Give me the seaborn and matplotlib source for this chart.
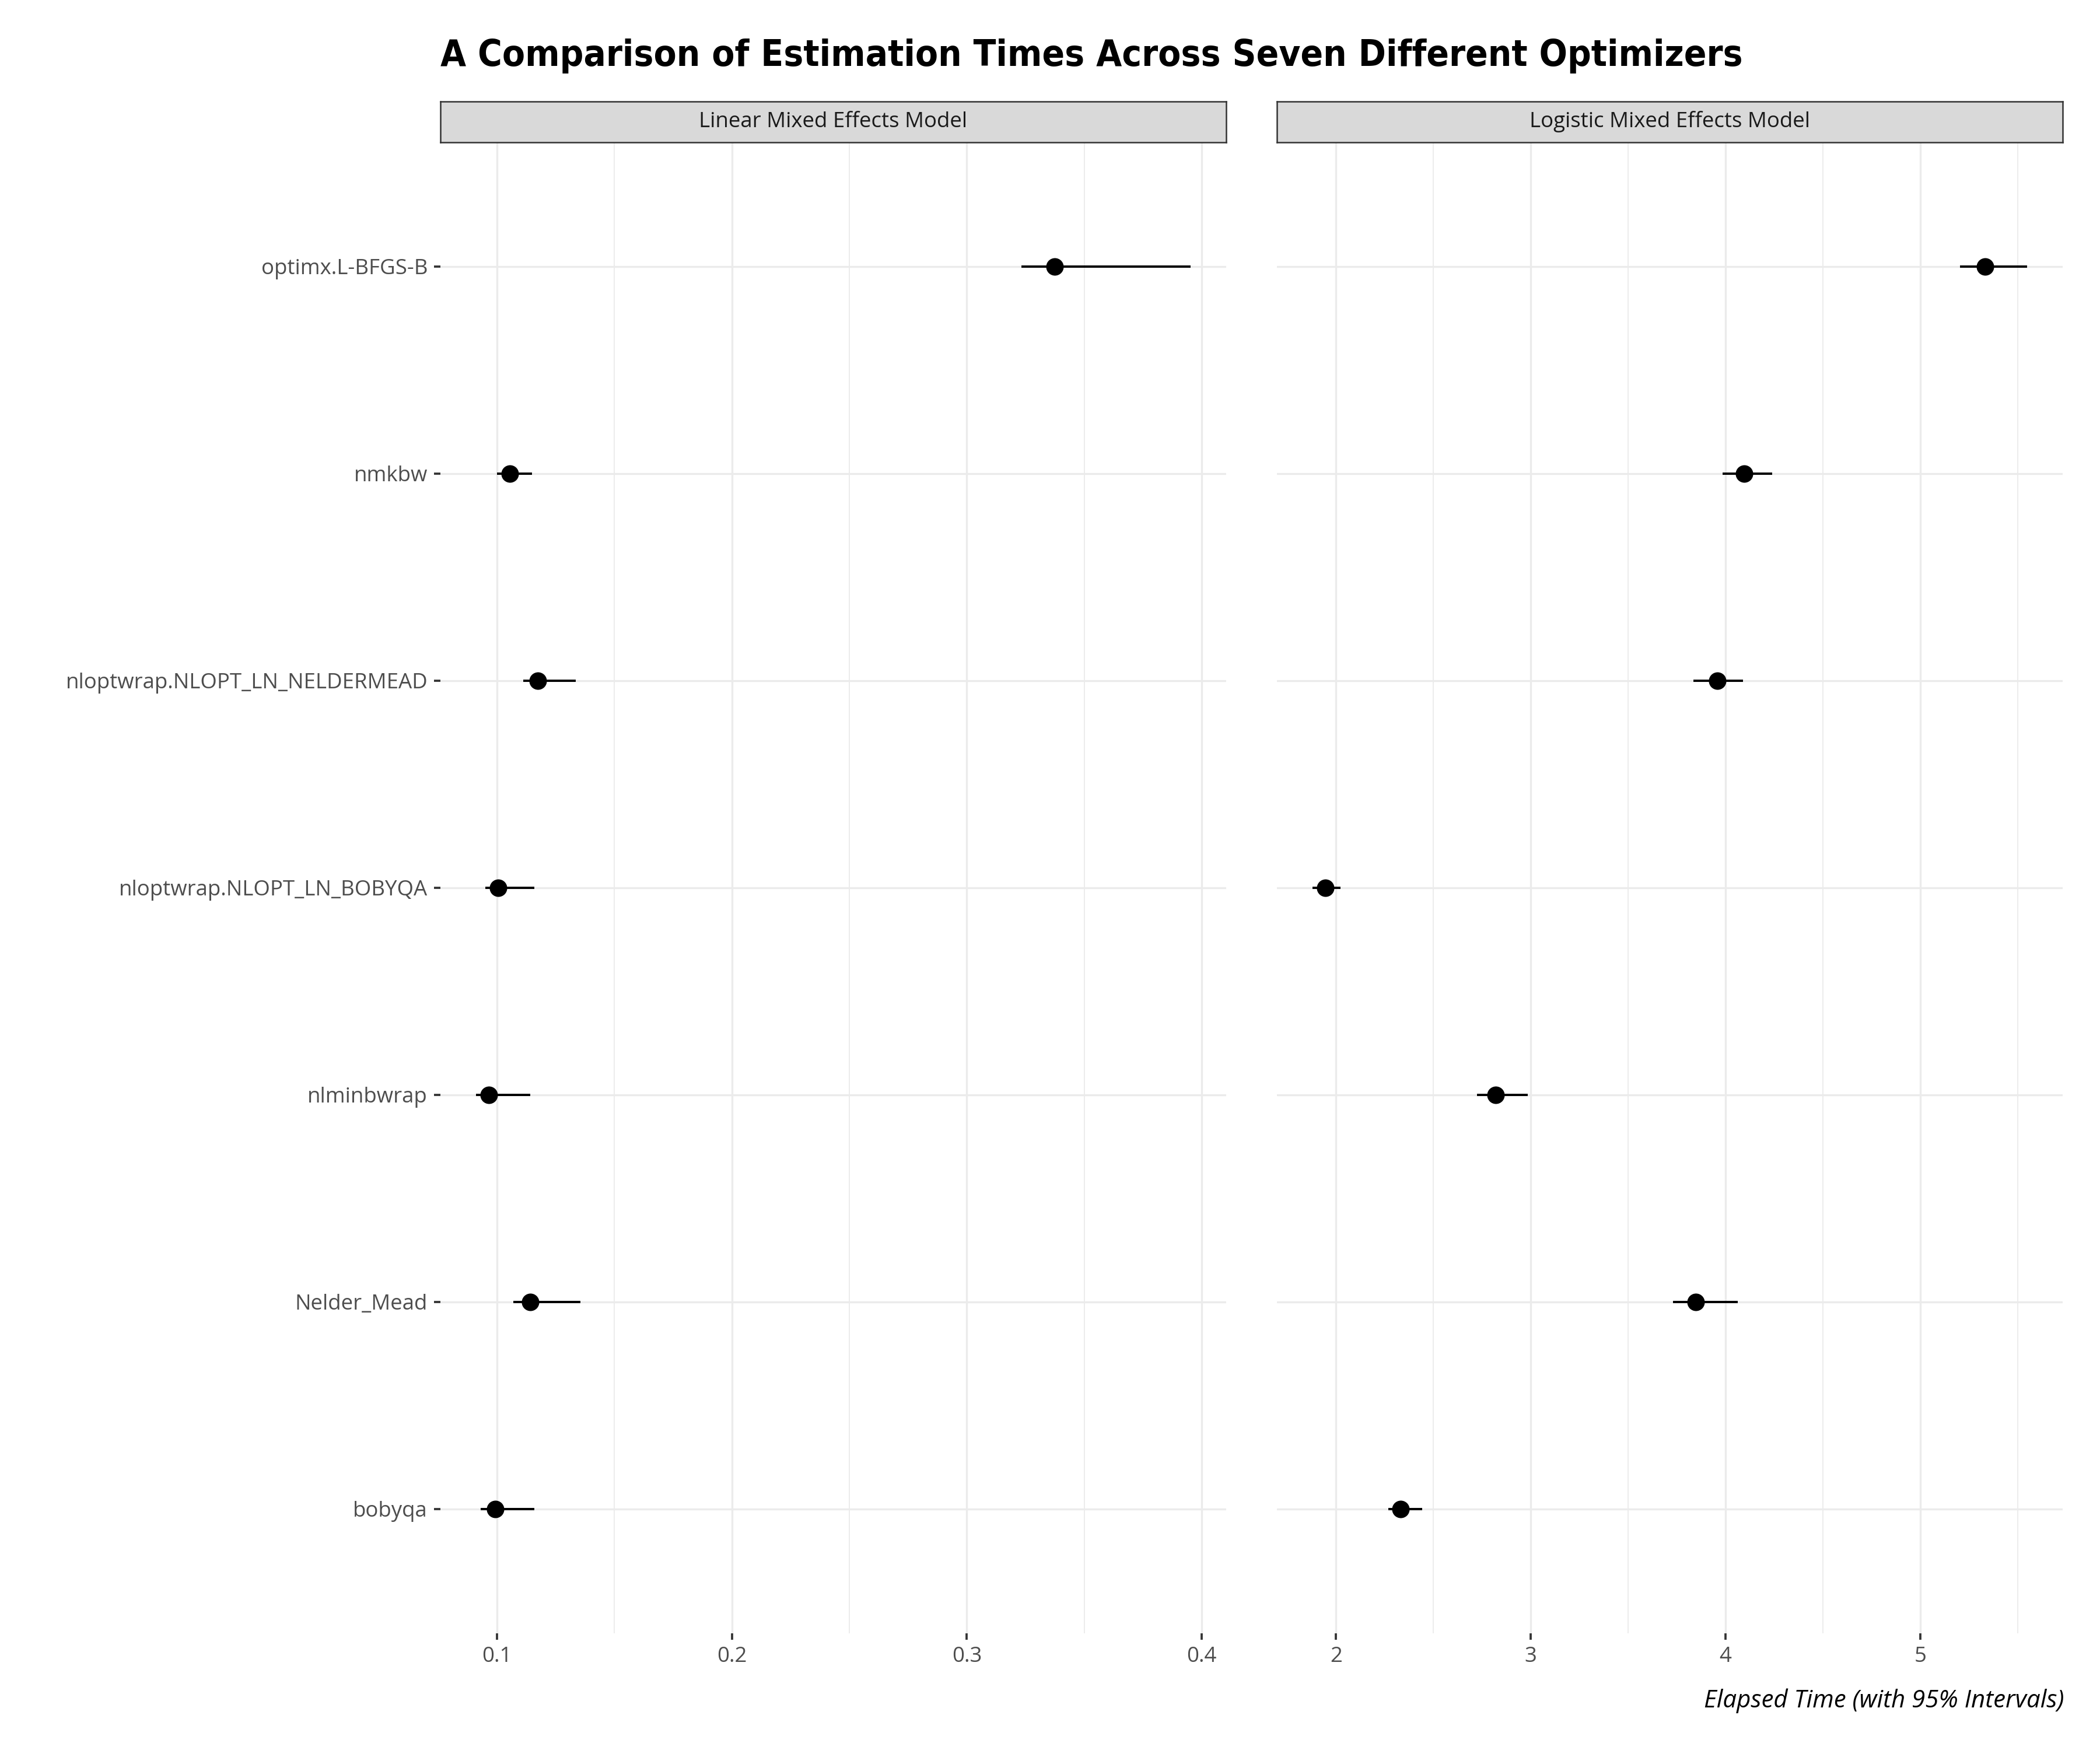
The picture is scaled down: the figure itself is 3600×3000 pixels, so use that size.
import numpy as np
import pandas as pd
import matplotlib
matplotlib.use("Agg")
import matplotlib.pyplot as plt
import seaborn as sns
from matplotlib.ticker import FixedLocator

# ---------------- data ----------------
optimizers = ["optimx.L-BFGS-B", "nmkbw", "nloptwrap.NLOPT_LN_NELDERMEAD",
              "nloptwrap.NLOPT_LN_BOBYQA", "nlminbwrap", "Nelder_Mead", "bobyqa"]
models = ["Linear Mixed Effects Model", "Logistic Mixed Effects Model"]

lmm_est = [0.3374, 0.1055, 0.1174, 0.1006, 0.0965, 0.1141, 0.0992]
lmm_lo = [0.3233, 0.1000, 0.1111, 0.0949, 0.0911, 0.1070, 0.0931]
lmm_hi = [0.3952, 0.1150, 0.1335, 0.1160, 0.1141, 0.1355, 0.1159]

glmm_est = [5.334, 4.097, 3.959, 1.946, 2.821, 3.848, 2.331]
glmm_lo = [5.203, 3.986, 3.834, 1.880, 2.724, 3.731, 2.269]
glmm_hi = [5.548, 4.241, 4.090, 2.023, 2.986, 4.062, 2.441]

lmm_ticks = [0.1, 0.2, 0.3, 0.4]
lmm_minor = [0.15, 0.25, 0.35]
glmm_ticks = [2, 3, 4, 5]
glmm_minor = [2.5, 3.5, 4.5, 5.5]

title = "A Comparison of Estimation Times Across Seven Different Optimizers"
xlabel = "Elapsed Time (with 95% Intervals)"

frames = []
for m, est, lo, hi in [(models[0], lmm_est, lmm_lo, lmm_hi),
                       (models[1], glmm_est, glmm_lo, glmm_hi)]:
    frames.append(pd.DataFrame({"model": m, "optimizer": optimizers,
                                "est": est, "lo": lo, "hi": hi}))
df = pd.concat(frames, ignore_index=True)
df["ypos"] = df["optimizer"].map({o: i for i, o in enumerate(optimizers)})

# ---------------- style ----------------
sns.set_theme(style="white")
plt.rcParams["font.family"] = ["Open Sans", "DejaVu Sans"]

GRID = "#EBEBEB"
TICKC = "#333333"
TXT = "#4D4D4D"
FS = 8.8

fig = plt.figure(figsize=(12, 10), dpi=300)

panel_bottom = 0.0667
panel_top = 0.9187
panel_h = panel_top - panel_bottom
strip_h = 0.0233
lefts = [755 / 3600, 2189 / 3600]
width = 1347 / 3600

tick_sets = [(lmm_ticks, lmm_minor), (glmm_ticks, glmm_minor)]

for k, m in enumerate(models):
    ax = fig.add_axes([lefts[k], panel_bottom, width, panel_h])
    sub = df[df["model"] == m]
    # error bars
    ax.hlines(sub["ypos"], sub["lo"], sub["hi"], color="black", lw=0.95, zorder=3)
    sns.scatterplot(data=sub, x="est", y="ypos", ax=ax, color="black", s=52,
                    linewidth=0, zorder=4, legend=False)
    # scales (5% expansion like ggplot)
    lo_all, hi_all = sub["lo"].min(), sub["hi"].max()
    rng = hi_all - lo_all
    ax.set_xlim(lo_all - 0.05 * rng, hi_all + 0.05 * rng)
    ax.set_ylim(len(optimizers) - 1 + 0.6, -0.6)
    major, minor = tick_sets[k]
    ax.xaxis.set_major_locator(FixedLocator(major))
    ax.xaxis.set_minor_locator(FixedLocator(minor))
    ax.set_xticklabels([f"{t:g}" for t in major])
    ax.set_yticks(range(len(optimizers)))
    if k == 0:
        ax.set_yticklabels(optimizers)
    else:
        ax.set_yticklabels([])
    ax.grid(True, which="major", axis="both", color=GRID, lw=0.8, zorder=0)
    ax.grid(True, which="minor", axis="x", color=GRID, lw=0.45, zorder=0)
    ax.set_axisbelow(True)
    for s in ax.spines.values():
        s.set_visible(False)
    ax.tick_params(axis="x", which="major", bottom=True, length=2.75, width=0.9,
                   color=TICKC, labelsize=FS, labelcolor=TXT, pad=2.5)
    ax.tick_params(axis="x", which="minor", bottom=False, length=0)
    if k == 0:
        ax.tick_params(axis="y", which="major", left=True, length=2.75, width=0.9,
                       color=TICKC, labelsize=FS, labelcolor=TXT, pad=2.5)
    else:
        ax.tick_params(axis="y", which="major", left=False, length=0)
    ax.set_xlabel("")
    ax.set_ylabel("")

    # facet strip
    sax = fig.add_axes([lefts[k], panel_top, width, strip_h])
    sax.set_facecolor("#D9D9D9")
    sax.set_xticks([])
    sax.set_yticks([])
    for s in sax.spines.values():
        s.set_color(TICKC)
        s.set_linewidth(0.6)
    sax.text(0.5, 0.5, m, ha="center", va="center", fontsize=FS,
             color="#1A1A1A", transform=sax.transAxes)

# x axis title
fig.text(0.9828, 0.0243, xlabel, ha="right", va="baseline", fontsize=10.1,
         style="italic", color="black")

# title, fitted to the reference width
t = fig.text(lefts[0], 0.9623, title, ha="left", va="baseline", fontsize=17,
             fontweight="bold", family=["DejaVu Sans"], fontstretch="condensed",
             color="black")
fig.canvas.draw()
r = fig.canvas.get_renderer()
w = t.get_window_extent(renderer=r).width
target = 2235
t.set_fontsize(17 * target / w)

fig.savefig("out.png", dpi=300, facecolor="white")
